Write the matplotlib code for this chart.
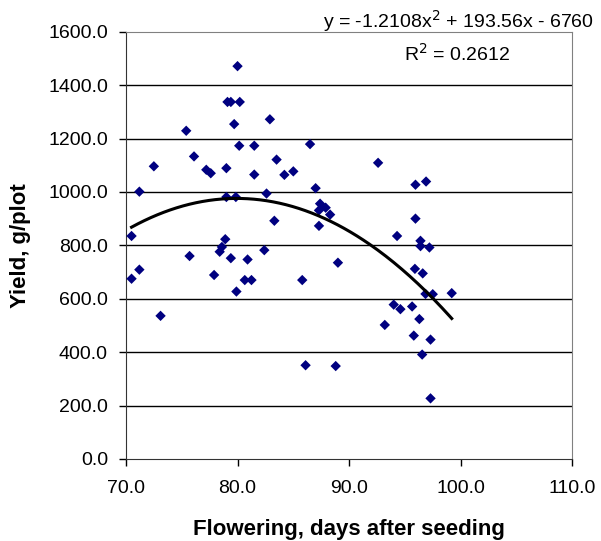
import numpy as np
import matplotlib.pyplot as plt
from matplotlib.ticker import FormatStrFormatter

plt.rcParams['font.family'] = ['Liberation Sans', 'DejaVu Sans']

# flowering (days after seeding) and yield (g/plot)
flowering = [80.0, 79.1, 79.4, 80.2, 79.7, 75.4, 80.15, 81.5, 76.1, 72.5,
             77.2, 77.6, 79.0, 81.5, 71.2, 79.0, 79.85, 70.5, 78.9, 78.6,
             78.4, 82.9, 86.5, 83.5, 92.6, 84.2, 85.0, 87.0, 82.6, 87.4,
             87.9, 87.3, 88.3, 83.3, 87.3, 94.3, 82.4, 95.95, 96.9, 95.95,
             96.4, 96.4, 97.2, 95.9, 96.6, 96.85, 97.5, 99.2, 94.0, 94.6,
             95.65, 96.3, 93.2, 95.8, 97.3, 96.55, 97.3, 75.7, 79.4, 80.9,
             71.2, 70.5, 77.9, 80.65, 81.25, 79.9, 73.1, 89.0, 85.8, 86.1,
             88.8]
yield_g = [1471, 1337, 1337, 1337, 1254, 1229, 1173, 1173, 1133, 1096,
           1083, 1070, 1089, 1065, 1001, 981, 981, 835, 823, 794,
           776, 1272, 1179, 1121, 1109, 1064, 1077, 1014, 994, 956,
           941, 931, 915, 892, 873, 835, 782, 1027, 1039, 900,
           817, 797, 792, 712, 695, 618, 617, 621, 578, 561,
           571, 524, 502, 462, 447, 391, 227, 760, 752, 747,
           709, 675, 689, 670, 670, 627, 536, 735, 670, 351,
           348]

# polynomial trendline shown on the chart
coef = [-1.2108, 193.56, -6760]
r2 = 0.2612

x_ticks = [70, 80, 90, 100, 110]
y_ticks = [0, 200, 400, 600, 800, 1000, 1200, 1400, 1600]

fig = plt.figure(figsize=(6.01, 5.41), dpi=100)
ax = fig.add_axes([0.2096, 0.1516, 0.7425, 0.7898])

for yt in y_ticks[1:-1]:
    ax.axhline(yt, color='black', lw=1, zorder=1)

ax.scatter(flowering, yield_g, marker='D', s=28, color='#000080',
           edgecolors='none', zorder=3)

xs = np.linspace(min(flowering), max(flowering), 200)
ax.plot(xs, np.polyval(coef, xs), color='black', lw=2.2, zorder=4)

ax.set_xlim(70, 110)
ax.set_ylim(0, 1600)
ax.set_xticks(x_ticks)
ax.set_yticks(y_ticks)
ax.xaxis.set_major_formatter(FormatStrFormatter('%.1f'))
ax.yaxis.set_major_formatter(FormatStrFormatter('%.1f'))
ax.tick_params(direction='out', length=5, width=1, labelsize=14, pad=8)
ax.tick_params(axis='x', pad=10)

for s in ['top', 'right']:
    ax.spines[s].set_color('#808080')
for s in ['left', 'bottom']:
    ax.spines[s].set_color('#333333')

ax.set_xlabel('Flowering, days after seeding', fontsize=16, fontweight='bold',
              labelpad=16)
ax.set_ylabel('Yield, g/plot', fontsize=16, fontweight='bold')
ax.yaxis.set_label_coords(-0.212, 0.5)

fig.text(0.989, 0.961, 'y = -1.2108x$^{2}$ + 193.56x - 6760', ha='right',
         va='center', fontsize=14)
fig.text(0.849, 0.900, 'R$^{2}$ = %.4f' % r2, ha='right', va='center',
         fontsize=14)

fig.savefig('out.png', dpi=100)
